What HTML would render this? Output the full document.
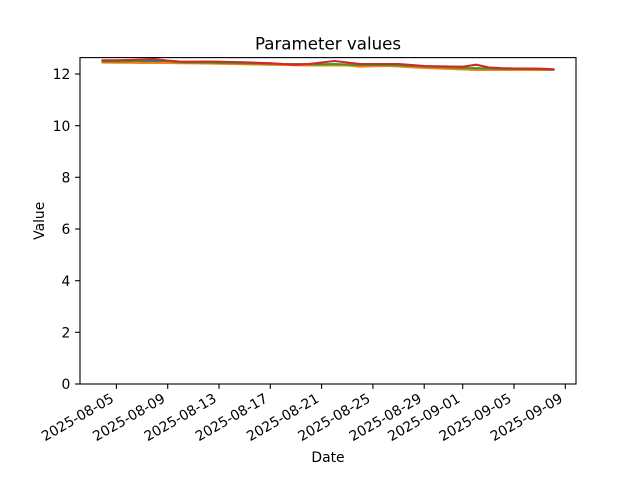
<!DOCTYPE html>
<html>
<head>
<meta charset="utf-8">
<style>
html,body{margin:0;padding:0;background:#fff;}
svg{display:block;}
text{font-family:"DejaVu Sans","Liberation Sans",sans-serif;fill:#000;}
</style>
</head>
<body>
<svg width="640" height="480" viewBox="0 0 640 480" xmlns="http://www.w3.org/2000/svg">
<rect x="0" y="0" width="640" height="480" fill="#fff"/>
<defs>
<clipPath id="ax"><rect x="80" y="57.6" width="496" height="326.4"/></clipPath>
</defs>
<g clip-path="url(#ax)" fill="none" stroke-width="2.08" stroke-linejoin="round" stroke-linecap="square">
<polyline stroke="#1f77b4" points="102.5,62 115.4,62 128.3,61.8 141.2,61.5 154,61 166.9,61.8 179.8,62.8 192.7,63 205.6,63 218.5,63.3 231.4,63.5 244.2,63.7 257.1,64 270,64.2 282.9,64.5 295.8,64.6 308.7,64.8 321.6,64.9 334.4,64.6 347.3,65 360.2,65.8 373.1,65.6 386,65.5 398.9,65.9 411.8,66.6 424.7,67.2 437.5,67.7 450.4,68.2 463.3,68.7 476.2,69 489.1,69.2 502,69.4 514.9,69.5 527.8,69.5 540.6,69.6 553.5,69.6"/>
<polyline stroke="#ff7f0e" points="102.5,62.5 115.4,62.7 128.3,62.7 141.2,63 154,63 166.9,63 179.8,63.2 192.7,63.3 205.6,63.5 218.5,63.7 231.4,64 244.2,64.2 257.1,64.5 270,64.8 282.9,65 295.8,65.2 308.7,65.5 321.6,65.5 334.4,65.3 347.3,65.5 360.2,66.7 373.1,66.2 386,66 398.9,66.5 411.8,67.3 424.7,68 437.5,68.5 450.4,69 463.3,69.5 476.2,70 489.1,70 502,70 514.9,70 527.8,70 540.6,70 553.5,69.8"/>
<polyline stroke="#2ca02c" points="102.5,61.5 115.4,61.5 128.3,61.3 141.2,60.5 154,59.3 166.9,61 179.8,62.3 192.7,62.5 205.6,62.5 218.5,62.8 231.4,63 244.2,63.2 257.1,63.5 270,63.7 282.9,64 295.8,64 308.7,64.2 321.6,64.3 334.4,64 347.3,64.5 360.2,65 373.1,65 386,65 398.9,65.3 411.8,66 424.7,66.5 437.5,67 450.4,67.5 463.3,68 476.2,68.2 489.1,68.5 502,68.8 514.9,69 527.8,69 540.6,69.2 553.5,69.5"/>
<polyline stroke="#d62728" points="102.5,60.3 115.4,60.3 128.3,60 141.2,59.5 154,59 166.9,60.5 179.8,61.5 192.7,61.7 205.6,61.5 218.5,61.7 231.4,62 244.2,62.3 257.1,62.8 270,63.2 282.9,64 295.8,64.8 308.7,64 321.6,62.5 334.4,61 347.3,62.5 360.2,64 373.1,64 386,64 398.9,64 411.8,65 424.7,66 437.5,66.3 450.4,66.5 463.3,66.7 476.2,64.7 489.1,67.5 502,68.2 514.9,68.5 527.8,68.5 540.6,68.7 553.5,69.3"/>
</g>
<rect x="80" y="57.6" width="496" height="326.4" fill="none" stroke="#000" stroke-width="1.11"/>
<g stroke="#000" stroke-width="1.11">
<line x1="75.1" y1="384" x2="80" y2="384"/>
<line x1="75.1" y1="332.3" x2="80" y2="332.3"/>
<line x1="75.1" y1="280.7" x2="80" y2="280.7"/>
<line x1="75.1" y1="229" x2="80" y2="229"/>
<line x1="75.1" y1="177.3" x2="80" y2="177.3"/>
<line x1="75.1" y1="125.7" x2="80" y2="125.7"/>
<line x1="75.1" y1="74" x2="80" y2="74"/>
</g>
<g font-size="13.89" text-anchor="end">
<text x="70.3" y="389.1">0</text>
<text x="70.3" y="337.4">2</text>
<text x="70.3" y="285.8">4</text>
<text x="70.3" y="234.1">6</text>
<text x="70.3" y="182.4">8</text>
<text x="70.3" y="130.8">10</text>
<text x="70.3" y="79.1">12</text>
</g>
<g stroke="#000" stroke-width="1.11">
<line x1="116.4" y1="384" x2="116.4" y2="388.9"/>
<line x1="167.7" y1="384" x2="167.7" y2="388.9"/>
<line x1="219" y1="384" x2="219" y2="388.9"/>
<line x1="270.3" y1="384" x2="270.3" y2="388.9"/>
<line x1="321.6" y1="384" x2="321.6" y2="388.9"/>
<line x1="372.9" y1="384" x2="372.9" y2="388.9"/>
<line x1="424.2" y1="384" x2="424.2" y2="388.9"/>
<line x1="462.7" y1="384" x2="462.7" y2="388.9"/>
<line x1="514" y1="384" x2="514" y2="388.9"/>
<line x1="565.3" y1="384" x2="565.3" y2="388.9"/>
</g>
<g font-size="13.89" text-anchor="end">
<text transform="translate(114.8,401.2) rotate(-30)">2025-08-05</text>
<text transform="translate(166.1,401.2) rotate(-30)">2025-08-09</text>
<text transform="translate(217.4,401.2) rotate(-30)">2025-08-13</text>
<text transform="translate(268.7,401.2) rotate(-30)">2025-08-17</text>
<text transform="translate(320,401.2) rotate(-30)">2025-08-21</text>
<text transform="translate(371.3,401.2) rotate(-30)">2025-08-25</text>
<text transform="translate(422.6,401.2) rotate(-30)">2025-08-29</text>
<text transform="translate(461.1,401.2) rotate(-30)">2025-09-01</text>
<text transform="translate(512.4,401.2) rotate(-30)">2025-09-05</text>
<text transform="translate(563.7,401.2) rotate(-30)">2025-09-09</text>
</g>
<text x="328" y="462" font-size="13.89" text-anchor="middle">Date</text>
<text transform="translate(44,220.8) rotate(-90)" font-size="13.89" text-anchor="middle">Value</text>
<text x="328" y="49.3" font-size="16.67" text-anchor="middle">Parameter values</text>
</svg>
</body>
</html>
